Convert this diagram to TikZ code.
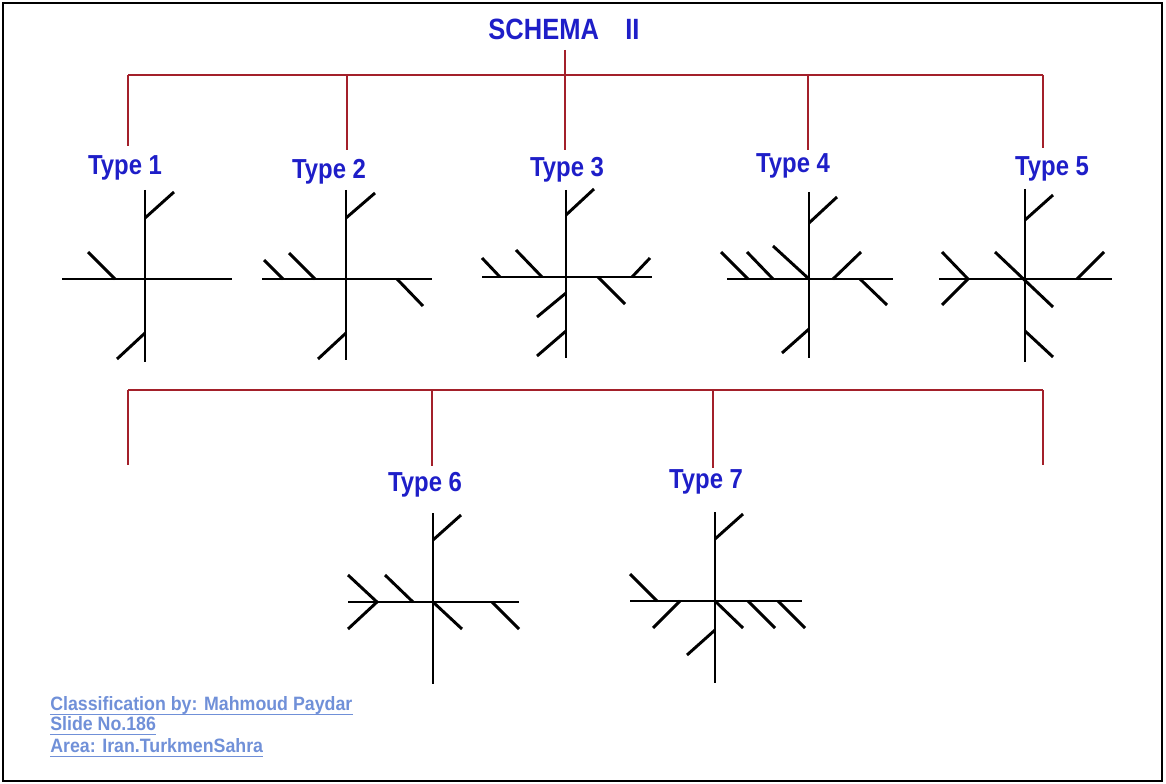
\documentclass[tikz,border=0pt]{standalone}
\usepackage{fontspec}
\setmainfont{Liberation Sans}
\newfontfamily\headfont[FakeStretch=0.87]{Liberation Sans}
\newfontfamily\notefont[FakeStretch=0.92]{Liberation Sans}
\definecolor{headblue}{HTML}{1E1EC8}
\definecolor{barred}{HTML}{A3202A}
\definecolor{noteblue}{HTML}{7090D8}

\begin{document}
\begin{tikzpicture}[x=0.75pt,y=-0.75pt,
  headlabel/.style={font=\headfont\bfseries\fontsize{22}{26}\selectfont, text=headblue, anchor=base, inner sep=0pt},
  typelabel/.style={font=\headfont\bfseries\fontsize{20.6}{24}\selectfont, text=headblue, anchor=base, inner sep=0pt},
  note/.style={font=\notefont\bfseries\fontsize{14.5}{17}\selectfont, text=noteblue, anchor=base west, inner sep=0pt},
  bar/.style={draw=barred, line width=1.5pt},
  thinbar/.style={draw=barred, line width=1.1pt},
  stroke/.style={draw=black, line width=2.2pt},
  frame/.style={draw=black, line width=1.5pt}]

\useasboundingbox (0,0) rectangle (1166,784);
\draw[frame] (3,3) rectangle (1162,781);

% ---- title and labels ----
\node[headlabel] (title) at (564,40) {SCHEMA\hspace{0.9em}II};
\node[typelabel] (t1) at (125,175) {Type 1};
\node[typelabel] (t2) at (329,179) {Type 2};
\node[typelabel] (t3) at (567,177) {Type 3};
\node[typelabel] (t4) at (793,173) {Type 4};
\node[typelabel] (t5) at (1052,176) {Type 5};
\node[typelabel] (t6) at (425,491) {Type 6};
\node[typelabel] (t7) at (706,488) {Type 7};

% ---- upper tree ----
\coordinate (stem) at (565,50);
\coordinate (b1) at (128,75);
\coordinate (b2) at (347,75);
\coordinate (b3) at (565,75);
\coordinate (b4) at (808,75);
\coordinate (b5) at (1043,75);
\coordinate (d1) at (128,146);
\coordinate (d2) at (347,150);
\coordinate (d3) at (565,150);
\coordinate (d4) at (808,150);
\coordinate (d5) at (1043,148);
\draw[bar] (b1) -- (b5);
\draw[bar] (stem) -- (d3);
\foreach \i in {1,2,4,5} \draw[bar] (b\i) -- (d\i);

% ---- lower tree ----
\coordinate (c1) at (128,390);
\coordinate (c2) at (432,390);
\coordinate (c3) at (713,390);
\coordinate (c4) at (1043,390);
\coordinate (e1) at (128,465);
\coordinate (e2) at (432,466);
\coordinate (e3) at (713,468);
\coordinate (e4) at (1043,465);
\draw[thinbar] (c1) -- (c4);
\foreach \i in {1,...,4} \draw[bar] (c\i) -- (e\i);

% ---- Type 1 ----
\draw[stroke] (145,190) -- (145,362);
\draw[stroke] (62,279) -- (232,279);
\draw[stroke] (145,218) -- (174,192);
\draw[stroke] (145,333) -- (117,359);
\draw[stroke] (115,279) -- (88,252);

% ---- Type 2 ----
\draw[stroke] (346,190) -- (346,360);
\draw[stroke] (262,279) -- (432,279);
\draw[stroke] (346,218) -- (375,193);
\draw[stroke] (346,333) -- (318,359);
\draw[stroke] (283,279) -- (264,260);
\draw[stroke] (315,279) -- (289,253);
\draw[stroke] (397,279) -- (423,306);

% ---- Type 3 ----
\draw[stroke] (566,190) -- (566,358);
\draw[stroke] (482,277) -- (652,277);
\draw[stroke] (566,215) -- (594,189);
\draw[stroke] (500,277) -- (482,258);
\draw[stroke] (542,277) -- (516,250);
\draw[stroke] (632,277) -- (650,258);
\draw[stroke] (598,277) -- (625,304);
\draw[stroke] (566,293) -- (537,317);
\draw[stroke] (566,331) -- (537,356);

% ---- Type 4 ----
\draw[stroke] (809,192) -- (809,358);
\draw[stroke] (727,279) -- (893,279);
\draw[stroke] (809,223) -- (837,197);
\draw[stroke] (809,329) -- (782,353);
\draw[stroke] (748,279) -- (721,252);
\draw[stroke] (773,279) -- (747,252);
\draw[stroke] (809,279) -- (773,246);
\draw[stroke] (833,279) -- (861,252);
\draw[stroke] (860,279) -- (887,305);

% ---- Type 5 ----
\draw[stroke] (1025,189) -- (1025,362);
\draw[stroke] (939,279) -- (1112,279);
\draw[stroke] (1025,220) -- (1053,195);
\draw[stroke] (942,252) -- (968,279) -- (942,305);
\draw[stroke] (995,252) -- (1053,307);
\draw[stroke] (1077,279) -- (1104,252);
\draw[stroke] (1025,331) -- (1053,357);

% ---- Type 6 ----
\draw[stroke] (433,513) -- (433,684);
\draw[stroke] (348,602) -- (519,602);
\draw[stroke] (433,540) -- (461,515);
\draw[stroke] (348,575) -- (377,602) -- (348,629);
\draw[stroke] (413,602) -- (385,575);
\draw[stroke] (433,602) -- (462,629);
\draw[stroke] (492,602) -- (519,629);

% ---- Type 7 ----
\draw[stroke] (715,512) -- (715,683);
\draw[stroke] (630,601) -- (802,601);
\draw[stroke] (715,539) -- (743,514);
\draw[stroke] (657,601) -- (630,574);
\draw[stroke] (680,601) -- (653,628);
\draw[stroke] (715,601) -- (743,628);
\draw[stroke] (748,601) -- (775,628);
\draw[stroke] (778,601) -- (805,628);
\draw[stroke] (715,630) -- (687,655);

% ---- credits ----
\node[note] (n1) at (50,710) {Classification by: Mahmoud Paydar};
\node[note] (n2) at (50,730) {Slide No.186};
\node[note] (n3) at (50,752) {Area: Iran.TurkmenSahra};
\foreach \n in {n1,n2,n3}
  \draw[noteblue, line width=0.9pt] ([yshift=-3.5pt]\n.base west) -- ([yshift=-3.5pt]\n.base east);
\end{tikzpicture}
\end{document}
